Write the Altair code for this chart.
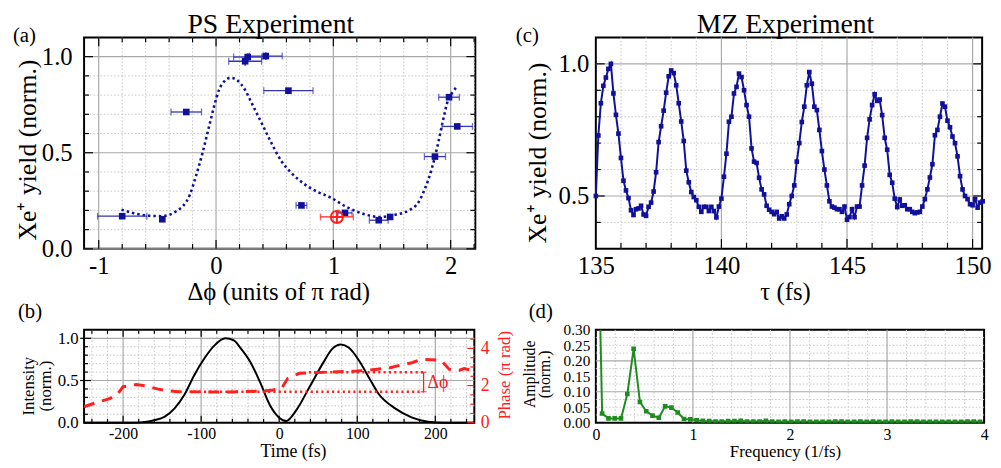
import altair as alt
import pandas as pd

FONT = "'Liberation Serif', 'Times New Roman', Times, serif"
BLUE = "#10109a"
BLUE_ERR = "#3434b4"
RED = "#ff2020"
GREEN = "#1e8c1e"
GRID_MAJ = "#a9a9a9"
GRID_MIN = "#c6c6c6"
MIN_DASH = [1.5, 2]

# ---------------- panel (a): PS experiment ----------------
a_x = [-0.80, -0.458, -0.254, 0.248, 0.27, 0.424, 0.617, 0.728, 1.099, 1.387, 1.484, 1.866, 1.986, 2.056]
a_y = [0.17, 0.154, 0.712, 0.976, 0.998, 1.003, 0.823, 0.226, 0.187, 0.149, 0.166, 0.48, 0.789, 0.637]
a_xerr = [0.21, 0.0, 0.13, 0.14, 0.12, 0.14, 0.21, 0.046, 0.06, 0.08, 0.0, 0.09, 0.088, 0.13]
a_yerr = [0.0, 0.0, 0.0, 0.025, 0.02, 0.02, 0.0, 0.0, 0.0, 0.0, 0.0, 0.0, 0.0, 0.0]
red_x = [1.03]
red_y = [0.166]
red_xerr = [0.14]
fit_x = [-0.806, -0.70, -0.588, -0.463, -0.337, -0.226, -0.17, -0.115, -0.059, -0.017, 0.025, 0.081,
         0.123, 0.178, 0.248, 0.304, 0.388, 0.471, 0.555, 0.638, 0.75, 0.86, 0.973, 1.113, 1.25, 1.39,
         1.53, 1.643, 1.726, 1.78, 1.838, 1.894, 1.936, 1.978, 2.02, 2.048]
fit_y = [0.204, 0.185, 0.173, 0.170, 0.197, 0.278, 0.381, 0.50, 0.638, 0.741, 0.826, 0.878,
         0.890, 0.878, 0.826, 0.758, 0.655, 0.552, 0.458, 0.398, 0.338, 0.298, 0.268, 0.218, 0.183, 0.166,
         0.178, 0.20, 0.243, 0.312, 0.415, 0.552, 0.672, 0.775, 0.818, 0.84]
a_xmaj = [-1, 0, 1, 2]
a_xmin = [-0.8, -0.6, -0.4, -0.2, 0.2, 0.4, 0.6, 0.8, 1.2, 1.4, 1.6, 1.8, 2.2]
a_ymaj = [0, 0.5, 1.0]
a_ymin = [0.1, 0.2, 0.3, 0.4, 0.6, 0.7, 0.8, 0.9]

# ---------------- panel (c): MZ experiment ----------------
c_start, c_step = 135.0, 0.1
c_y = [0.500, 0.729, 0.851, 0.917, 0.948, 0.981, 1.000, 0.888, 0.807, 0.736,
       0.644, 0.558, 0.521, 0.492, 0.446, 0.428, 0.450, 0.453, 0.463, 0.430,
       0.425, 0.459, 0.475, 0.517, 0.590, 0.704, 0.764, 0.823, 0.891, 0.953,
       0.975, 0.965, 0.919, 0.851, 0.782, 0.708, 0.596, 0.552, 0.515, 0.496,
       0.484, 0.459, 0.440, 0.459, 0.459, 0.443, 0.459, 0.443, 0.419, 0.460,
       0.490, 0.573, 0.660, 0.781, 0.800, 0.888, 0.913, 0.963, 0.950, 0.900,
       0.844, 0.800, 0.680, 0.630, 0.625, 0.569, 0.525, 0.506, 0.463, 0.448,
       0.440, 0.431, 0.440, 0.415, 0.423, 0.415, 0.430, 0.469, 0.500, 0.540,
       0.630, 0.700, 0.780, 0.838, 0.919, 0.969, 0.925, 0.838, 0.825, 0.750,
       0.670, 0.600, 0.540, 0.480, 0.460, 0.456, 0.450, 0.450, 0.440, 0.460,
       0.410, 0.420, 0.450, 0.420, 0.460, 0.460, 0.540, 0.615, 0.720, 0.790,
       0.844, 0.885, 0.860, 0.865, 0.806, 0.720, 0.675, 0.580, 0.550, 0.490,
       0.458, 0.487, 0.463, 0.465, 0.450, 0.450, 0.440, 0.435, 0.438, 0.440,
       0.460, 0.488, 0.525, 0.570, 0.620, 0.730, 0.750, 0.800, 0.850, 0.838,
       0.785, 0.760, 0.725, 0.700, 0.650, 0.575, 0.525, 0.500, 0.488, 0.469,
       0.465, 0.488, 0.456, 0.475, 0.480]
c_tau = [round(c_start + c_step * k, 2) for k in range(len(c_y))]
c_xmaj = [140, 145, 150]
c_xmin = [136, 137, 138, 139, 141, 142, 143, 144, 146, 147, 148, 149]
c_ymaj = [0.5, 1.0]
c_ymin = [0.4, 0.6, 0.7, 0.8, 0.9]

# ---------------- panel (b): pulse ----------------
b_t = [-250, -190, -172, -160, -147, -134, -121.5, -109, -96, -83.5, -69, -58, -50, -37, -24.5, -12, 0, 9,
       22, 38.7, 55.7, 68, 79, 89.4, 102, 114.7, 127, 148.5, 169.6, 190.6, 211, 250]
b_i = [0, 0.0, 0.01, 0.03, 0.07, 0.17, 0.33, 0.56, 0.76, 0.91, 1.0, 0.975, 0.89, 0.72, 0.48, 0.21, 0.06, 0.02,
       0.15, 0.42, 0.70, 0.875, 0.926, 0.887, 0.74, 0.54, 0.346, 0.17, 0.064, 0.012, 0.0, 0.0]
p_t = [-250, -231, -219, -208, -200, -183, -170, -155, -143, -130, -100, -60, -20, -8, 3, 11, 26, 40, 60, 100,
       123, 142, 155, 170, 182, 207, 218, 231, 237, 250]
p_v = [0.86, 1.13, 1.27, 1.49, 1.94, 2.06, 1.97, 1.81, 1.72, 1.67, 1.66, 1.66, 1.70, 1.76, 1.85, 2.39, 2.66, 2.69,
       2.72, 2.78, 2.87, 2.96, 3.10, 3.23, 3.41, 3.37, 2.87, 2.83, 2.92, 2.78]
ref_t1 = [-110, 38]
ref_t2 = [185, 185]
ref_p = [1.67, 2.72]
dphi_t = [185]
dphi_lo = [1.67]
dphi_hi = [2.72]
b_xmaj = [-200, -100, 0, 100, 200]
b_xmin = [v for v in range(-240, 241, 20) if v % 100 != 0]
b_ymaj = [0.5, 1.0]
b_ymin = [0.1, 0.2, 0.3, 0.4, 0.6, 0.7, 0.8, 0.9]
b_pmaj = [0, 2, 4]
b_pmin = [0.5, 1, 1.5, 2.5, 3, 3.5, 4.5]

# ---------------- panel (d): FFT ----------------
d_step = 0.0649
d_y = [1.0, 0.030, 0.014, 0.014, 0.014, 0.093, 0.239, 0.067, 0.037, 0.023, 0.016, 0.053, 0.049, 0.033,
       0.012, 0.011, 0.008, 0.006, 0.005, 0.004, 0.004, 0.005, 0.005, 0.006, 0.004, 0.004, 0.004, 0.006,
       0.004, 0.003, 0.004, 0.003, 0.004, 0.004, 0.003, 0.003, 0.003, 0.003, 0.004, 0.004, 0.003, 0.003,
       0.004, 0.003, 0.004, 0.003, 0.003, 0.004, 0.003, 0.003, 0.004, 0.004, 0.003, 0.003, 0.003, 0.003,
       0.003, 0.003, 0.003, 0.004, 0.004, 0.003]
d_f = [round(d_step * i, 4) for i in range(len(d_y))]
d_xmaj = [1, 2, 3]
d_xmin = [0.2, 0.4, 0.6, 0.8, 1.2, 1.4, 1.6, 1.8, 2.2, 2.4, 2.6, 2.8, 3.2, 3.4, 3.6, 3.8]
d_ymaj = [0.1, 0.2]
d_ymin = [0.025, 0.05, 0.075, 0.125, 0.15, 0.175, 0.225, 0.25, 0.275]


# ---------------- helpers ----------------
def xaxis(values, size, pad, fmt=None):
    kw = dict(values=values, labelFont=FONT, labelFontSize=size, labelColor="black", labelPadding=pad,
              ticks=False, tickSize=0, domain=False, grid=False, title=None, labelFlush=False,
              labelOverlap=False, labelExpr="replace(datum.label, '\u2212', '-')")
    if fmt:
        kw["format"] = fmt
    return alt.Axis(**kw)


def yaxis(values, size, pad, fmt, color="black", orient="left"):
    return alt.Axis(values=values, labelFont=FONT, labelFontSize=size, labelColor=color, labelPadding=pad,
                    ticks=False, tickSize=0, domain=False, grid=False, title=None, format=fmt,
                    labelOverlap=False, orient=orient)


class Frame:
    """Holds the scales and axes of one panel, so every layer shares them."""

    def __init__(self, xs, ys, ax, ay):
        self.xs, self.ys, self.ax, self.ay = xs, ys, ax, ay

    def X(self, f):
        return alt.X(f, scale=self.xs, axis=self.ax)

    def Y(self, f):
        return alt.Y(f, scale=self.ys, axis=self.ay)

    def vrules(self, vals, color, width=1.0, dash=None):
        kw = dict(color=color, strokeWidth=width)
        if dash:
            kw["strokeDash"] = dash
        return alt.Chart(pd.DataFrame({"v": vals})).mark_rule(**kw).encode(x=self.X("v:Q"))

    def hrules(self, vals, color, width=1.0, dash=None):
        kw = dict(color=color, strokeWidth=width)
        if dash:
            kw["strokeDash"] = dash
        return alt.Chart(pd.DataFrame({"v": vals})).mark_rule(**kw).encode(y=self.Y("v:Q"))

    def xticks(self, vals, y0, y1, color="black", width=1.2):
        return alt.Chart(pd.DataFrame({"v": vals})).mark_rule(color=color, strokeWidth=width).encode(
            x=self.X("v:Q"), y=alt.value(y0), y2=alt.value(y1))

    def yticks(self, vals, x0, x1, color="black", width=1.2):
        return alt.Chart(pd.DataFrame({"v": vals})).mark_rule(color=color, strokeWidth=width).encode(
            y=self.Y("v:Q"), x=alt.value(x0), x2=alt.value(x1))


def label(text, x, y, size, color="black", align="left", baseline="alphabetic", angle=None):
    kw = dict(font=FONT, fontSize=size, color=color, align=align, baseline=baseline)
    if angle is not None:
        kw["angle"] = angle
    return alt.Chart(pd.DataFrame({"t": [text]})).mark_text(**kw).encode(
        x=alt.value(x), y=alt.value(y), text="t:N")


# ================= panel (a) =================
WA, HA = 396, 214
fa = Frame(alt.Scale(domain=[-1.125, 2.21], nice=False, zero=False),
           alt.Scale(domain=[0, 1.1], nice=False, zero=False),
           xaxis(a_xmaj, 25, 5), yaxis(a_ymaj, 25, 12, ".1f"))

df_a = pd.DataFrame({"x": a_x, "y": a_y, "xe": a_xerr, "ye": a_yerr})
base_a = alt.Chart(df_a).transform_calculate(
    xlo="datum.x - datum.xe", xhi="datum.x + datum.xe",
    ylo="datum.y - datum.ye", yhi="datum.y + datum.ye")
errx = base_a.transform_filter("datum.xe > 0")
erry = base_a.transform_filter("datum.ye > 0")
df_red = pd.DataFrame({"x": red_x, "y": red_y, "xe": red_xerr})
base_r = alt.Chart(df_red).transform_calculate(xlo="datum.x - datum.xe", xhi="datum.x + datum.xe")

a_layers = [
    fa.vrules(a_xmin, GRID_MIN, 1, MIN_DASH),
    fa.hrules(a_ymin, GRID_MIN, 1, MIN_DASH),
    fa.vrules(a_xmaj, GRID_MAJ, 1.2),
    fa.hrules(a_ymaj, GRID_MAJ, 1.2),
    fa.xticks(a_xmin, HA, HA - 5), fa.xticks(a_xmaj, HA, HA - 9),
    fa.xticks(a_xmin, 0, 5), fa.xticks(a_xmaj, 0, 9),
    fa.yticks(a_ymin, 0, 5), fa.yticks(a_ymaj, 0, 9),
    fa.yticks(a_ymin, WA, WA - 5), fa.yticks(a_ymaj, WA, WA - 9),
    alt.Chart(pd.DataFrame({"x": fit_x, "y": fit_y})).mark_line(
        color=BLUE, strokeWidth=2.6, strokeDash=[2.5, 3], interpolate="monotone").encode(
        x=fa.X("x:Q"), y=fa.Y("y:Q")),
    errx.mark_rule(color=BLUE_ERR, strokeWidth=1.3).encode(x=fa.X("xlo:Q"), x2="xhi:Q", y=fa.Y("y:Q")),
    errx.mark_tick(orient="vertical", size=7, thickness=1.3, color=BLUE_ERR).encode(
        x=fa.X("xlo:Q"), y=fa.Y("y:Q")),
    errx.mark_tick(orient="vertical", size=7, thickness=1.3, color=BLUE_ERR).encode(
        x=fa.X("xhi:Q"), y=fa.Y("y:Q")),
    erry.mark_rule(color=BLUE_ERR, strokeWidth=1.3).encode(x=fa.X("x:Q"), y=fa.Y("ylo:Q"), y2="yhi:Q"),
    base_a.mark_square(size=45, color=BLUE, opacity=1).encode(x=fa.X("x:Q"), y=fa.Y("y:Q")),
    base_r.mark_rule(color=RED, strokeWidth=1.3).encode(x=fa.X("xlo:Q"), x2="xhi:Q", y=fa.Y("y:Q")),
    base_r.mark_tick(orient="vertical", size=7, thickness=1.3, color=RED).encode(
        x=fa.X("xlo:Q"), y=fa.Y("y:Q")),
    base_r.mark_tick(orient="vertical", size=7, thickness=1.3, color=RED).encode(
        x=fa.X("xhi:Q"), y=fa.Y("y:Q")),
    base_r.mark_point(shape="M-1,0A1,1 0 1,0 1,0A1,1 0 1,0 -1,0ZM-1,0L1,0M0,-1L0,1", size=150,
                      filled=False, color=RED, strokeWidth=2, opacity=1).encode(
        x=fa.X("x:Q"), y=fa.Y("y:Q")),
    label("(a)", -72, 5, 21),
    label("PS Experiment", 189, -4, 28, align="center"),
    label("Δϕ (units of π rad)", 197, 266, 25, align="center"),
    label("Xe⁺ yield (norm.)", -49, 114, 26, align="center", angle=270),
]
panel_a = alt.layer(*a_layers).properties(width=WA, height=HA)

# ================= panel (c) =================
WC, HC = 391, 214
fc = Frame(alt.Scale(domain=[135, 150.38], nice=False, zero=False),
           alt.Scale(domain=[0.3, 1.1], nice=False, zero=False),
           xaxis([135] + c_xmaj, 25, 5), yaxis(c_ymaj, 25, 7, ".1f"))
df_c = pd.DataFrame({"t": c_tau, "y": c_y})
c_layers = [
    fc.vrules(c_xmin, GRID_MIN, 1, MIN_DASH),
    fc.hrules(c_ymin, GRID_MIN, 1, MIN_DASH),
    fc.vrules(c_xmaj, GRID_MAJ, 1.2),
    fc.hrules(c_ymaj, GRID_MAJ, 1.2),
    fc.xticks(c_xmin, HC, HC - 6), fc.xticks(c_xmaj, HC, HC - 10),
    fc.yticks(c_ymin, 0, 5), fc.yticks(c_ymaj, 0, 9),
    fc.yticks(c_ymin, WC, WC - 5), fc.yticks(c_ymaj, WC, WC - 9),
    alt.Chart(df_c).mark_line(color=BLUE, strokeWidth=2).encode(x=fc.X("t:Q"), y=fc.Y("y:Q")),
    alt.Chart(df_c).mark_square(size=22, color=BLUE, opacity=1).encode(x=fc.X("t:Q"), y=fc.Y("y:Q")),
    label("(c)", -81, 5, 21),
    label("MZ Experiment", 192, -4, 28, align="center"),
    label("τ (fs)", 192, 266, 25, align="center"),
    label("Xe⁺ yield (norm.)", -50, 117, 26, align="center", angle=270),
]
panel_c = alt.layer(*c_layers).properties(width=WC, height=HC)

# ================= panel (b) =================
WB, HB = 395, 94
xs_b = alt.Scale(domain=[-250, 250], nice=False, zero=False)
ax_b = xaxis(b_xmaj, 16, 3)
fb = Frame(xs_b, alt.Scale(domain=[0, 1.1], nice=False, zero=False), ax_b,
           yaxis([0, 0.5, 1.0], 17, 6, ".1f"))
fp = Frame(xs_b, alt.Scale(domain=[0, 5], nice=False, zero=False), ax_b,
           yaxis(b_pmaj, 18, 6, "d", color=RED, orient="right"))
df_ref = pd.DataFrame({"t1": ref_t1, "t2": ref_t2, "p": ref_p})
df_dphi = pd.DataFrame({"t": dphi_t, "lo": dphi_lo, "hi": dphi_hi})
b_int = alt.layer(
    fb.vrules(b_xmin, GRID_MIN, 1, MIN_DASH),
    fb.hrules(b_ymin, GRID_MIN, 1, MIN_DASH),
    fb.vrules(b_xmaj, GRID_MAJ, 1.2),
    fb.hrules(b_ymaj, GRID_MAJ, 1.2),
    fb.xticks(b_xmin, HB, HB - 4), fb.xticks(b_xmaj, HB, HB - 7),
    fb.xticks(b_xmin, 0, 4), fb.xticks(b_xmaj, 0, 7),
    fb.yticks(b_ymin, 0, 4), fb.yticks(b_ymaj, -4, 7),
    alt.Chart(pd.DataFrame({"t": b_t, "i": b_i})).mark_line(
        color="black", strokeWidth=2, interpolate="monotone").encode(x=fb.X("t:Q"), y=fb.Y("i:Q")),
)
b_phase = alt.layer(
    fp.yticks(b_pmin, WB, WB - 4, color=RED), fp.yticks(b_pmaj, WB, WB - 7, color=RED),
    alt.Chart(df_ref).mark_rule(color=RED, strokeWidth=2.4, strokeDash=[2.2, 3.2]).encode(
        x=fp.X("t1:Q"), x2="t2:Q", y=fp.Y("p:Q")),
    alt.Chart(pd.DataFrame({"t": p_t, "p": p_v})).mark_line(
        color=RED, strokeWidth=3, strokeDash=[11, 8]).encode(x=fp.X("t:Q"), y=fp.Y("p:Q")),
    alt.Chart(df_dphi).mark_rule(color=RED, strokeWidth=1.3).encode(
        x=fp.X("t:Q"), y=fp.Y("lo:Q"), y2="hi:Q"),
    alt.Chart(df_dphi).mark_tick(orient="horizontal", size=6, thickness=1.3, color=RED).encode(
        x=fp.X("t:Q"), y=fp.Y("lo:Q")),
    alt.Chart(df_dphi).mark_tick(orient="horizontal", size=6, thickness=1.3, color=RED).encode(
        x=fp.X("t:Q"), y=fp.Y("hi:Q")),
    alt.Chart(pd.DataFrame({"t": [190], "p": [2.12], "s": ["Δϕ"]})).mark_text(
        font=FONT, fontSize=18, color=RED, align="left", baseline="middle").encode(
        x=fp.X("t:Q"), y=fp.Y("p:Q"), text="s:N"),
    label("(b)", -67, -12, 21),
    label("Time (fs)", 212, 129, 18, align="center"),
    label("Intensity", -51, 57, 17, align="center", angle=270),
    label("(norm.)", -33, 57, 17, align="center", angle=270),
    label("Phase (π rad)", 431, 46, 17, color=RED, align="center", angle=270),
)
panel_b = alt.layer(b_int, b_phase).resolve_scale(y="independent").properties(width=WB, height=HB)

# ================= panel (d) =================
WD, HD = 393, 94
fd = Frame(alt.Scale(domain=[0, 4], nice=False, zero=False),
           alt.Scale(domain=[0, 0.3], nice=False, zero=False),
           xaxis([0, 1, 2, 3, 4], 16, 4),
           yaxis([0, 0.05, 0.1, 0.15, 0.2, 0.25, 0.3], 15.5, 6, ".2f"))
df_d = pd.DataFrame({"f": d_f, "a": d_y})
d_layers = [
    fd.vrules(d_xmin, GRID_MIN, 1, MIN_DASH),
    fd.hrules(d_ymin, GRID_MIN, 1, MIN_DASH),
    fd.vrules(d_xmaj, GRID_MAJ, 1.2),
    fd.hrules(d_ymaj, GRID_MAJ, 1.2),
    alt.Chart(df_d).mark_line(color=GREEN, strokeWidth=2, clip=True).encode(x=fd.X("f:Q"), y=fd.Y("a:Q")),
    alt.Chart(df_d).mark_square(size=22, color=GREEN, opacity=1, clip=True).encode(
        x=fd.X("f:Q"), y=fd.Y("a:Q")),
    label("(d)", -68, -12, 21),
    label("Frequency (1/fs)", 192, 129, 17, align="center"),
    label("Amplitude", -62, 45, 16, align="center", angle=270),
    label("(norm.)", -46, 45, 16, align="center", angle=270),
]
panel_d = alt.layer(*d_layers).properties(width=WD, height=HD)

chart = alt.concat(panel_a, panel_c, panel_b, panel_d, columns=2,
                   spacing={"row": 82, "column": 122}, bounds="flush").properties(
    padding={"left": 4, "top": 0, "right": 0, "bottom": 0}
).configure(font=FONT).configure_axis(labelFont=FONT).configure_view(stroke="black", strokeWidth=2)

chart.save("out.html", embed_options={"renderer": "svg", "actions": False})
